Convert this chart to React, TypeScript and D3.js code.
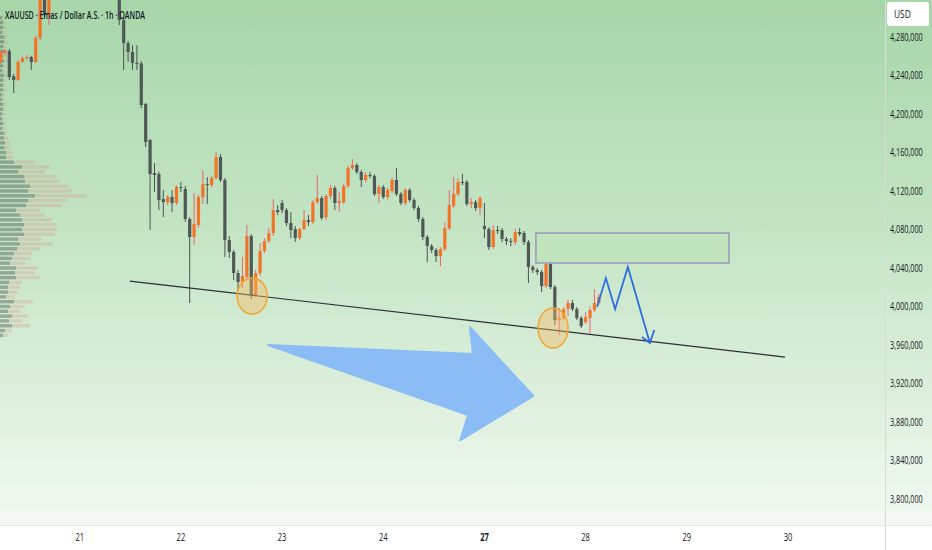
import { scaleLinear, format } from "d3";

// hourly candles, prices in thousands (4254 -> 4,254,000)
const opens = [
    4254, 4263.3, 4265.4, 4239.4, 4235.3, 4254, 4258.1, 4259.2, 4254, 4278.9,
    4320, 4302.8, 4326, 4340, 4348, 4356, 4350, 4354, 4366, 4372,
    4365, 4358, 4362, 4353, 4345, 4350, 4336, 4330, 4297.6, 4273.7,
    4264.4, 4253, 4252.5, 4210.4, 4173, 4138.7, 4137.6, 4111.6, 4108.5, 4113.7,
    4107.5, 4124.1, 4122, 4090.9, 4072.2, 4084.6, 4113.7, 4127.2, 4126.2, 4133.5,
    4155.3, 4131.4, 4069, 4056.6, 4034.8, 4025.4, 4030.6, 4073.2, 4011.9, 4034.8,
    4057.6, 4068, 4076.3, 4100.2, 4107.5, 4100.2, 4086.7, 4080.5, 4071.1, 4080.5,
    4089.8, 4087.7, 4108.5, 4112.7, 4092.9, 4114.8, 4123.1, 4107.5, 4108.5, 4125.2,
    4143.8, 4147, 4139.7, 4131.4, 4136.6, 4135.5, 4116.8, 4124.1, 4113.7, 4120,
    4131.4, 4116.8, 4107.5, 4121, 4110.6, 4102.3, 4090.9, 4072.2, 4062.8, 4058.7,
    4052.4, 4059.7, 4081.5, 4104.4, 4116.8, 4129.3, 4129.3, 4106.4, 4108.5, 4102.3,
    4083.6, 4080.5, 4061.8, 4079.4, 4079.4, 4070.1, 4068, 4067, 4077.4, 4076.3,
    4067, 4041, 4037.9, 4035.8, 4021.2, 4044.1, 4020.2, 3985.9, 3988, 3997.3,
    4003.6, 3997.3, 3988, 3983.8, 3988, 3996.3, 4003.6
];
const highs = [
    4266.4, 4267.5, 4267.5, 4241.5, 4256.1, 4260.2, 4261.3, 4260.2, 4281, 4323.6,
    4326, 4332, 4345, 4352, 4360, 4364, 4358, 4370, 4378, 4381,
    4370, 4366, 4368, 4360, 4355, 4354, 4342, 4338, 4300, 4276,
    4271.6, 4271.6, 4255, 4211.4, 4174, 4149, 4140, 4121, 4115.8, 4121,
    4126.2, 4129.3, 4125.2, 4092.9, 4117.9, 4116, 4141.8, 4134.5, 4135.5, 4160.5,
    4158.4, 4133.5, 4073.2, 4058.7, 4037.9, 4051.4, 4084.6, 4075.3, 4037.9, 4065.9,
    4071.1, 4081.5, 4111.6, 4105.4, 4110.6, 4102.3, 4098.1, 4083.6, 4081.5, 4100.2,
    4095, 4110.6, 4136.6, 4114.8, 4116.8, 4126.2, 4125.2, 4118.9, 4127.2, 4146,
    4153.2, 4149, 4141.8, 4139.7, 4139.7, 4137.6, 4126.2, 4126.2, 4123.1, 4133.5,
    4143.8, 4118.9, 4123.1, 4123.1, 4112.7, 4104.4, 4092.9, 4074.3, 4064.9, 4060.7,
    4061.8, 4087.7, 4121, 4134.5, 4133.5, 4137.6, 4131.4, 4112.7, 4110.6, 4114.8,
    4107.5, 4082.5, 4084.6, 4083.6, 4081.5, 4072.2, 4071.1, 4080.5, 4081.5, 4078.4,
    4069, 4043.1, 4040, 4037.9, 4046.2, 4048.3, 4022.3, 3998.4, 3999.4, 4006.7,
    4006.7, 3999.4, 3990.1, 3994.2, 4000, 4018.1, 4013
];
const lows = [
    4252, 4261.3, 4235.3, 4221.8, 4234.2, 4253, 4256.1, 4245.7, 4253, 4276.8,
    4299.7, 4292.4, 4322, 4334, 4342, 4345, 4340, 4350, 4360, 4362,
    4352, 4348, 4350, 4340, 4338, 4332, 4325, 4292.4, 4245.7, 4254,
    4245.7, 4245.7, 4206.2, 4165.7, 4079.4, 4118.9, 4100.2, 4092.9, 4105.4, 4098.1,
    4105.4, 4118.9, 4087.7, 4003.6, 4063.9, 4081.5, 4106.4, 4106.4, 4124.1, 4131.4,
    4129.3, 4051.4, 4050.3, 4027.5, 4017.1, 4019.2, 4027.5, 4007.8, 4009.8, 4031.6,
    4055.5, 4065.9, 4073.2, 4095, 4097.1, 4083.6, 4071.1, 4067, 4069, 4079.4,
    4083.6, 4085.7, 4106.4, 4089.8, 4089.8, 4111.6, 4100.2, 4098.1, 4106.4, 4123.1,
    4141.8, 4137.6, 4124.1, 4129.3, 4133.5, 4114.8, 4107.5, 4111.6, 4111.6, 4117.9,
    4114.8, 4105.4, 4105.4, 4108.5, 4100.2, 4087.7, 4069, 4046.2, 4055.5, 4046.2,
    4042, 4057.6, 4079.4, 4102.3, 4114.8, 4126.2, 4104.4, 4102.3, 4099.2, 4095,
    4071.1, 4058.7, 4059.7, 4075.3, 4067, 4063.9, 4062.8, 4063.9, 4073.2, 4063.9,
    4024.4, 4034.8, 4032.7, 4015, 4019.2, 4018.1, 3980.7, 3970.3, 3985.9, 3990.1,
    3995.3, 3985.9, 3977.6, 3981.8, 3972.4, 3994.2, 4001.5
];
const closes = [
    4264.4, 4265.4, 4238.4, 4235.3, 4254, 4258.1, 4259.2, 4254, 4278.9, 4320,
    4302.8, 4326, 4340, 4348, 4356, 4350, 4354, 4366, 4372, 4365,
    4358, 4362, 4353, 4345, 4350, 4336, 4330, 4297.6, 4273.7, 4264.4,
    4253, 4252.5, 4209.3, 4170.9, 4137.6, 4136.6, 4110.6, 4108.5, 4113.7, 4107.5,
    4124.1, 4123.1, 4090.9, 4072.2, 4085.7, 4113.7, 4127.2, 4126.2, 4133.5, 4155.3,
    4131.4, 4069, 4056.6, 4034.8, 4025.4, 4031.6, 4073.2, 4011.9, 4034.8, 4057.6,
    4068, 4076.3, 4100.2, 4098.1, 4100.2, 4086.7, 4079.4, 4071.1, 4080.5, 4089.8,
    4087.7, 4108.5, 4112.7, 4091.9, 4114.8, 4123.1, 4107.5, 4109.6, 4125.2, 4143.8,
    4147, 4139.7, 4131.4, 4136.6, 4135.5, 4116.8, 4124.1, 4113.7, 4121, 4131.4,
    4116.8, 4107.5, 4121, 4110.6, 4102.3, 4090.9, 4072.2, 4062.8, 4058.7, 4052.4,
    4059.7, 4081.5, 4105.4, 4116.8, 4129.3, 4128.3, 4106.4, 4108.5, 4102.3, 4112.7,
    4080.5, 4061.8, 4079.4, 4078.4, 4070.1, 4068, 4067, 4077.4, 4075.3, 4067,
    4041, 4037.9, 4035.8, 4021.2, 4044.1, 4020.2, 3985.9, 3988, 3997.3, 4003.6,
    3997.3, 3988, 3979.7, 3989, 3996.3, 4003.6, 4009.8
];

const dayTicks = [18, 41, 64, 87, 110, 133, 156, 179];
const dayLabels = ["21", "22", "23", "24", "27", "28", "29", "30"];
const priceTicks = [4280, 4240, 4200, 4160, 4120, 4080, 4040, 4000, 3960, 3920, 3880, 3840, 3800];

// volume profile rows, from 4300 downwards in steps of 5
const profileTop = 4300;
const profileStep = 5;
const profileUp = [
    2, 3, 3, 2, 4, 4, 3, 5, 3, 4, 3, 2, 4, 3, 3, 3, 2, 2, 3, 3,
    2, 2, 3, 2, 4, 4, 5, 4, 6, 6, 14, 22, 18, 24, 25, 30, 28, 35, 28, 26,
    16, 20, 22, 24, 22, 24, 18, 20, 17, 14, 12, 10, 16, 15, 16, 9, 8, 8, 6, 14,
    10, 8, 12, 9, 12, 5, 3
];
const profileDown = [
    2, 2, 3, 3, 3, 4, 3, 4, 4, 4, 3, 3, 3, 3, 2, 3, 3, 2, 3, 2,
    3, 2, 3, 3, 3, 4, 5, 5, 6, 8, 21, 28, 27, 31, 35, 38, 44, 52, 39, 36,
    24, 25, 30, 32, 35, 31, 24, 33, 23, 18, 18, 15, 22, 20, 24, 13, 12, 10, 9, 19,
    15, 12, 16, 13, 18, 7, 5
];

// drawings, in (bar index, price)
const trendBars = [29.4, 178.3];
const trendPrices = [4026.4, 3947.5];
const zoneBars = [121.7, 165.6];
const zonePrices = [4076.3, 4045.2];
const pathBars = [135.6, 137.6, 139.7, 142.6, 147.6];
const pathPrices = [3999.4, 4029.6, 3997.3, 4041, 3962];
const headBars = [145.8, 148.6];
const headPrices = [3968.3, 3975.5];
const circleBars = [57.2, 125.6];
const circlePrices = [4010.9, 3977.6];
const bigArrowBars = [60.8, 107.4, 106.7, 121.1, 104.5, 106.3];
const bigArrowPrices = [3960, 3950.6, 3978.6, 3907, 3861.2, 3887.2];

const W = 932;
const H = 550;
const plotRight = 885;
const plotBottom = 525;

const x = scaleLinear().domain([0, 179]).range([0.5, 788]);
const y = scaleLinear().domain([3800, 4280]).range([499, 37]);
const volX = scaleLinear().domain([0, 100]).range([0, 100]);
const fmt = format(",");

const UP = "#f47427";
const UP_WICK = "#e8676c";
const DOWN = "#4f5857";
const DOWN_WICK = "#4a5352";

const VolumeProfile = () => (
    <g>
        {profileUp.map((u, i) => {
            const p = profileTop - i * profileStep;
            const top = y(p + profileStep / 2) + 0.7;
            const h = y(p - profileStep / 2) - y(p + profileStep / 2) - 1.4;
            return (
                <g key={`vp-${i}`}>
                    <rect x={0} y={top} width={volX(u)} height={h} fill="rgba(70,80,78,0.42)" />
                    <rect x={volX(u)} y={top} width={volX(profileDown[i])} height={h} fill="rgba(225,125,125,0.24)" />
                </g>
            );
        })}
    </g>
);

const Candles = () => (
    <g>
        {opens.map((o, i) => {
            const c = closes[i];
            const up = c >= o;
            const cx = x(i);
            const top = y(Math.max(o, c));
            const bh = Math.max(1, y(Math.min(o, c)) - top);
            return (
                <g key={`c-${i}`}>
                    <line x1={cx} x2={cx} y1={y(highs[i])} y2={y(lows[i])} stroke={up ? UP_WICK : DOWN_WICK} strokeWidth={1} />
                    <rect x={cx - 1.6} y={top} width={3.2} height={bh} fill={up ? UP : DOWN} />
                </g>
            );
        })}
    </g>
);

const Drawings = () => {
    const zig = pathBars.map((b, i) => `${x(b)},${y(pathPrices[i])}`).join(" ");
    const tip = `${x(pathBars[4])},${y(pathPrices[4])}`;
    const big = bigArrowBars.map((b, i) => `${x(b)},${y(bigArrowPrices[i])}`).join(" ");
    return (
        <g>
            <line
                x1={x(trendBars[0])} y1={y(trendPrices[0])}
                x2={x(trendBars[1])} y2={y(trendPrices[1])}
                stroke="#2a2e39" strokeWidth={1.2}
            />
            <rect
                x={x(zoneBars[0])} y={y(zonePrices[0])}
                width={x(zoneBars[1]) - x(zoneBars[0])}
                height={y(zonePrices[1]) - y(zonePrices[0])}
                fill="rgba(190,228,186,0.75)" stroke="#9d95b9" strokeWidth={1.5}
            />
            {circleBars.map((b, i) => (
                <ellipse key={`circ-${i}`} cx={x(b)} cy={y(circlePrices[i])} rx={15} ry={i === 0 ? 18 : 20}
                    fill="rgba(247,186,100,0.42)" stroke="#f2a531" strokeWidth={1.5} />
            ))}
            <polyline points={zig} fill="none" stroke="#2f6de0" strokeWidth={1.8} strokeLinejoin="miter" />
            <polyline
                points={`${x(headBars[0])},${y(headPrices[0])} ${tip} ${x(headBars[1])},${y(headPrices[1])}`}
                fill="none" stroke="#2f6de0" strokeWidth={1.8}
            />
            <polygon points={big} fill="#8bbcf6" stroke="#8bbcf6" strokeWidth={2} strokeLinejoin="round" />
        </g>
    );
};

const PriceAxis = () => (
    <g fontFamily="'Open Sans', sans-serif" fontSize={10.5} fill="#131722">
        {priceTicks.map((v) => (
            <text key={`pt-${v}`} transform={`translate(890, ${y(v) + 3.8}) scale(0.69, 1)`}>
                {fmt(v * 1000)}
            </text>
        ))}
        <rect x={887} y={2} width={42} height={24} rx={3} fill="#ffffff" />
        <text transform="translate(894, 18) scale(0.8, 1)">USD</text>
    </g>
);

const TimeAxis = () => (
    <g fontFamily="'Open Sans', sans-serif" fontSize={10.5} fill="#131722" textAnchor="middle">
        {dayTicks.map((t, i) => (
            <text key={`dt-${t}`} transform={`translate(${x(t)}, 541) scale(0.72, 1)`}
                fontWeight={dayLabels[i] === "27" ? 700 : 400}>
                {dayLabels[i]}
            </text>
        ))}
    </g>
);

export default function App() {
    return (
        <svg width={W} height={H} style={{ position: "absolute", left: 0, top: 0, display: "block" }}>
            <defs>
                <linearGradient id="bg" x1="0" y1="0" x2="0" y2="1">
                    <stop offset="0" stopColor="#a7d6a9" />
                    <stop offset="0.45" stopColor="#c5e5c5" />
                    <stop offset="0.75" stopColor="#dcefdc" />
                    <stop offset="1" stopColor="#f3faf3" />
                </linearGradient>
                <clipPath id="plot">
                    <rect x={0} y={0} width={plotRight} height={plotBottom} />
                </clipPath>
            </defs>
            <rect x={0} y={0} width={W} height={plotBottom} fill="url(#bg)" />
            <rect x={0} y={plotBottom} width={W} height={H - plotBottom} fill="#ffffff" />
            <line x1={0} x2={W} y1={plotBottom + 0.5} y2={plotBottom + 0.5} stroke="#e3e6ea" />
            <line x1={plotRight + 0.5} x2={plotRight + 0.5} y1={0} y2={H} stroke="#d6ddd6" />
            <g clipPath="url(#plot)">
                <VolumeProfile />
                <Candles />
                <Drawings />
            </g>
            <text transform="translate(5, 19) scale(0.62, 1)" fontFamily="'Open Sans', sans-serif"
                fontSize={11.5} fontWeight={600} fill="#131722">
                XAUUSD · Emas / Dollar A.S. · 1h · OANDA
            </text>
            <PriceAxis />
            <TimeAxis />
        </svg>
    );
}
